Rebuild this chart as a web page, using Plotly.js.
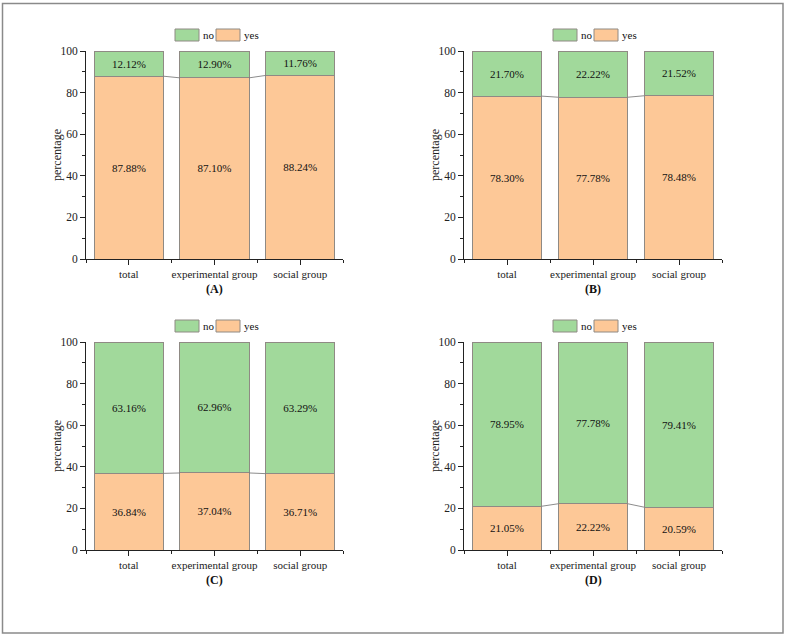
<!DOCTYPE html>
<html>
<head>
<meta charset="utf-8">
<script src="https://cdn.plot.ly/plotly-3.0.1.min.js"></script>
<style>html,body{margin:0;padding:0;background:#fff;}#chart{width:786px;height:636px;}</style>
</head>
<body>
<div id="chart"></div>
<script>
const categories = ['total', 'experimental group', 'social group'];
const yesA = [87.88, 87.10, 88.24];
const noA  = [12.12, 12.90, 11.76];
const yesB = [78.30, 77.78, 78.48];
const noB  = [21.70, 22.22, 21.52];
const yesC = [36.84, 37.04, 36.71];
const noC  = [63.16, 62.96, 63.29];
const yesD = [21.05, 22.22, 20.59];
const noD  = [78.95, 77.78, 79.41];
const panelLabels = ['(A)', '(B)', '(C)', '(D)'];
const seriesNames = ['no', 'yes'];
const yTitle = 'percentage';

const W = 786, H = 636;
const FONT = "'Liberation Serif'";
const GREEN = '#a1d99b';
const ORANGE = '#fdc897';
const EDGE = '#8f8a84';
const BARW = 0.81;

const panels = [
  {yes: yesA, no: noA, px: [86, 343], py: [51, 259]},
  {yes: yesB, no: noB, px: [464, 722], py: [51, 259]},
  {yes: yesC, no: noC, px: [86, 343], py: [342, 550]},
  {yes: yesD, no: noD, px: [464, 722], py: [342, 550]}
];

const xs = categories.map((c, i) => i);
const fmt = v => v.toFixed(2) + '%';

const traces = [];
const layout = {
  width: W, height: H,
  margin: {l: 0, r: 0, t: 0, b: 0},
  paper_bgcolor: '#fff', plot_bgcolor: '#fff',
  barmode: 'stack', bargap: 0,
  showlegend: false,
  font: {family: FONT, size: 11, color: '#222'},
  shapes: [], annotations: []
};

panels.forEach((p, k) => {
  const n = k === 0 ? '' : String(k + 1);
  const xa = 'x' + n, ya = 'y' + n;
  traces.push({
    type: 'bar', x: xs, y: p.yes, xaxis: xa, yaxis: ya, width: BARW,
    name: seriesNames[1],
    marker: {color: ORANGE, line: {color: EDGE, width: 1}},
    text: p.yes.map(fmt), textposition: 'inside', insidetextanchor: 'middle',
    textangle: 0, constraintext: 'none',
    textfont: {family: FONT, size: 11, color: '#111'}, hoverinfo: 'skip'
  });
  traces.push({
    type: 'bar', x: xs, y: p.no, xaxis: xa, yaxis: ya, width: BARW,
    name: seriesNames[0],
    marker: {color: GREEN, line: {color: EDGE, width: 1}},
    text: p.no.map(fmt), textposition: 'inside', insidetextanchor: 'middle',
    textangle: 0, constraintext: 'none',
    textfont: {family: FONT, size: 11, color: '#111'}, hoverinfo: 'skip'
  });
  // connector lines between tops of "yes" segments
  const lx = [], ly = [];
  for (let i = 0; i < xs.length - 1; i++) {
    lx.push(xs[i] + BARW / 2, xs[i + 1] - BARW / 2, null);
    ly.push(p.yes[i], p.yes[i + 1], null);
  }
  traces.push({
    type: 'scatter', mode: 'lines', x: lx, y: ly, xaxis: xa, yaxis: ya,
    line: {color: '#6f6f6f', width: 0.8}, hoverinfo: 'skip', showlegend: false
  });

  const xd = [p.px[0] / W, p.px[1] / W];
  const yd = [1 - p.py[1] / H, 1 - p.py[0] / H];
  layout['xaxis' + n] = {
    domain: xd, anchor: ya, range: [-0.5, 2.5],
    tickmode: 'array', tickvals: xs, ticktext: categories,
    ticks: 'outside', ticklen: 5, tickcolor: '#222', tickwidth: 1,
    minor: {tick0: 0.5, dtick: 1, ticks: 'outside', ticklen: 3, tickcolor: '#222', showgrid: false},
    showline: true, linecolor: '#222', linewidth: 1, showgrid: false, zeroline: false,
    tickfont: {family: FONT, size: 11, color: '#222'}, fixedrange: true
  };
  layout['yaxis' + n] = {
    domain: yd, anchor: xa, range: [0, 100],
    tickmode: 'linear', tick0: 0, dtick: 20,
    ticks: 'outside', ticklen: 5, tickcolor: '#222', tickwidth: 1,
    minor: {dtick: 10, ticks: 'outside', ticklen: 3, tickcolor: '#222', showgrid: false},
    showline: true, linecolor: '#222', linewidth: 1, showgrid: false, zeroline: false,
    tickfont: {family: FONT, size: 11.5, color: '#222'},
    fixedrange: true
  };

  // y axis title
  layout.annotations.push({
    xref: 'paper', yref: 'paper', x: (p.px[0] - 29) / W, y: (yd[0] + yd[1]) / 2,
    text: yTitle, textangle: -90, showarrow: false,
    xanchor: 'center', yanchor: 'middle', font: {family: FONT, size: 12, color: '#222'}
  });

  // panel label
  layout.annotations.push({
    xref: 'paper', yref: 'paper', x: (xd[0] + xd[1]) / 2, y: 1 - (p.py[1] + 30) / H,
    text: '<b>' + panelLabels[k] + '</b>', showarrow: false,
    xanchor: 'center', yanchor: 'middle', font: {family: FONT, size: 12, color: '#111'}
  });

  // legend (swatches + labels), above the plot
  const lx0 = p.px[0] + 89, lyTop = p.py[0] - 22, lyBot = p.py[0] - 10;
  const sw = 24;
  layout.shapes.push({
    type: 'rect', xref: 'paper', yref: 'paper',
    x0: lx0 / W, x1: (lx0 + sw) / W, y0: 1 - lyBot / H, y1: 1 - lyTop / H,
    fillcolor: GREEN, line: {color: EDGE, width: 1}
  });
  layout.annotations.push({
    xref: 'paper', yref: 'paper', x: (lx0 + sw + 2) / W, y: 1 - ((lyTop + lyBot) / 2) / H,
    text: seriesNames[0], showarrow: false, xanchor: 'left', yanchor: 'middle',
    font: {family: FONT, size: 11, color: '#111'}
  });
  const ox0 = lx0 + 41;
  layout.shapes.push({
    type: 'rect', xref: 'paper', yref: 'paper',
    x0: ox0 / W, x1: (ox0 + sw) / W, y0: 1 - lyBot / H, y1: 1 - lyTop / H,
    fillcolor: ORANGE, line: {color: EDGE, width: 1}
  });
  layout.annotations.push({
    xref: 'paper', yref: 'paper', x: (ox0 + sw + 2) / W, y: 1 - ((lyTop + lyBot) / 2) / H,
    text: seriesNames[1], showarrow: false, xanchor: 'left', yanchor: 'middle',
    font: {family: FONT, size: 11, color: '#111'}
  });
});

// outer frame
layout.shapes.push({
  type: 'rect', xref: 'paper', yref: 'paper',
  x0: 2.5 / W, x1: 783 / W, y0: 1 - 633 / H, y1: 1 - 3.5 / H,
  line: {color: '#8a8a8a', width: 1.5}, fillcolor: 'rgba(0,0,0,0)'
});

Plotly.newPlot('chart', traces, layout, {displayModeBar: false, staticPlot: true});
</script>
</body>
</html>
